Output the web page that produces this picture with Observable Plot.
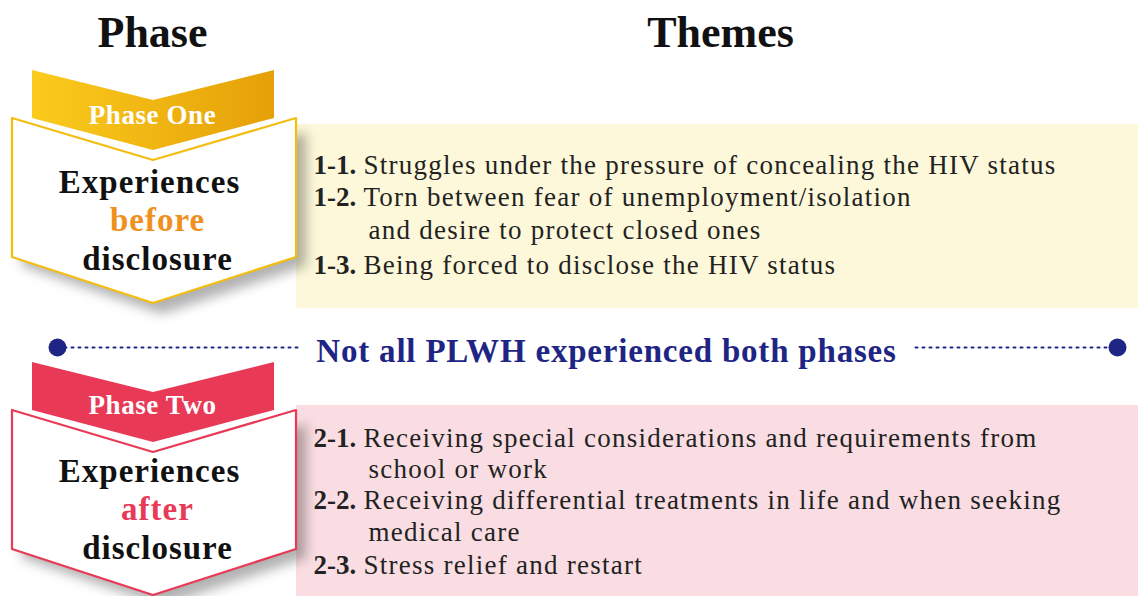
<!DOCTYPE html>
<html><head><meta charset="utf-8">
<script src="https://cdn.jsdelivr.net/npm/d3@7"></script>
<script src="https://cdn.jsdelivr.net/npm/@observablehq/plot@0.6"></script>
<style>
html,body{margin:0;padding:0;background:#fff;}
#chart svg{display:block;}
</style>
</head><body><div id="chart"></div>
<script>
// ---- data ----
const headings = ["Phase", "Themes"];
const phaseLabels = ["Phase One", "Phase Two"];
const phaseWordsTop = ["Experiences", "Experiences"];
const phaseWordsMid = ["before", "after"];
const phaseWordsBottom = ["disclosure", "disclosure"];
const themeNums1 = ["1-1.", "1-2.", "", "1-3."];
const themeTexts1 = [
  "Struggles under the pressure of concealing the HIV status",
  "Torn between fear of unemployment/isolation",
  "and desire to protect closed ones",
  "Being forced to disclose the HIV status"
];
const themeNums2 = ["2-1.", "", "2-2.", "", "2-3."];
const themeTexts2 = [
  "Receiving special considerations and requirements from",
  "school or work",
  "Receiving differential treatments in life and when seeking",
  "medical care",
  "Stress relief and restart"
];
const bridgeText = "Not all PLWH experienced both phases";

// ---- layout (pixel coordinate space) ----
const W = 1138, H = 596;
const serif = "'Liberation Serif', 'DejaVu Serif', serif";
const gold = "#f3bd12", goldText = "#f0901e", red = "#e83a57", navy = "#1f2585";
const offsets = [0, 292];
const phaseColors = [gold, red];
const midColors = [goldText, red];
const panelColors = ["#fdf8da", "#f9dde2"];
const panelY = [[124, 308], [405, 596]];
const shadowFill = "#010101";

function chevron(x, top, bottom, dy) {
  return x.map((xx, i) => ({x: xx, y1: top[i] + dy, y2: bottom[i] + dy}));
}
const marks = [];
panelY.forEach((p, i) => {
  marks.push(Plot.rect([{x1: 296, x2: W, y1: p[0], y2: p[1]}], {x1: "x1", x2: "x2", y1: "y1", y2: "y2", fill: panelColors[i]}));
});
offsets.forEach((dy, i) => {
  const sh = i ? -3 : 0;
  marks.push(Plot.areaY(chevron([22, 162, 306], [132, 174, 132], [266, 314, 266], dy), {x: "x", y1: "y1", y2: "y2", fill: shadowFill, fillOpacity: 0.3}));
  marks.push(Plot.areaY(chevron([12, 153, 296], [118, 160, 118], [257, 303, 257], dy), {x: "x", y1: "y1", y2: "y2", fill: "white", stroke: phaseColors[i], strokeWidth: 2.2}));
  marks.push(Plot.areaY(chevron([32, 153, 274], [70, 100, 70], [118, 150, 118], dy), {x: "x", y1: "y1", y2: "y2", fill: i === 0 ? "url(#goldGrad)" : red}));
  marks.push(Plot.text([phaseLabels[i]], {x: 152, y: 115 + dy + (i ? -2 : 0), text: d => d, fill: "white", fontFamily: serif, fontWeight: "bold", fontSize: 27}));
  marks.push(Plot.text([phaseWordsTop[i]], {x: 149, y: 182 + dy + sh, text: d => d, fill: "#111", fontFamily: serif, fontWeight: "bold", fontSize: 33}));
  marks.push(Plot.text([phaseWordsMid[i]], {x: 157, y: 220 + dy + sh, text: d => d, fill: midColors[i], fontFamily: serif, fontWeight: "bold", fontSize: 33}));
  marks.push(Plot.text([phaseWordsBottom[i]], {x: 157, y: 259 + dy + sh, text: d => d, fill: "#111", fontFamily: serif, fontWeight: "bold", fontSize: 33}));
});
marks.push(Plot.text(headings, {x: (d, i) => [152, 720][i], y: 32, text: d => d, fill: "#111", fontFamily: serif, fontWeight: "bold", fontSize: 44}));
const ys1 = [165, 197, 230, 265];
const ys2 = [438, 469, 500, 532, 565];
function themeMarks(nums, texts, ys) {
  const rows = nums.map((n, i) => ({n, t: texts[i], y: ys[i]}));
  marks.push(Plot.text(rows.filter(r => r.n), {x: 313, y: "y", text: "n", textAnchor: "start", fill: "#222", fontFamily: serif, fontWeight: "bold", fontSize: 27}));
  marks.push(Plot.text(rows, {x: r => r.n ? 363 : 368, y: "y", text: "t", textAnchor: "start", fill: "#222", fontFamily: serif, fontSize: 27}));
}
themeMarks(themeNums1, themeTexts1, ys1);
themeMarks(themeNums2, themeTexts2, ys2);
marks.push(Plot.line([{x: 57, y: 347}, {x: 300, y: 347}], {x: "x", y: "y", stroke: navy, strokeWidth: 2, strokeDasharray: "2,5"}));
marks.push(Plot.line([{x: 915, y: 347}, {x: 1117, y: 347}], {x: "x", y: "y", stroke: navy, strokeWidth: 2, strokeDasharray: "2,5"}));
marks.push(Plot.dot([{x: 57, y: 347}, {x: 1117, y: 347}], {x: "x", y: "y", r: 9, fill: navy}));
marks.push(Plot.text([bridgeText], {x: 606, y: 351, text: d => d, fill: navy, fontFamily: serif, fontWeight: "bold", fontSize: 33}));

const svg = Plot.plot({
  width: W, height: H, margin: 0,
  x: {domain: [0, W], range: [0, W], axis: null},
  y: {domain: [0, H], range: [0, H], axis: null},
  style: {background: "white"},
  marks
});
const s = d3.select(svg);
const defs = s.insert("defs", ":first-child");
const g = defs.append("linearGradient").attr("id", "goldGrad").attr("x1", "0").attr("x2", "1").attr("y1", "0").attr("y2", "0");
g.append("stop").attr("offset", "0").attr("stop-color", "#fbcb1d");
g.append("stop").attr("offset", "1").attr("stop-color", "#e5a007");
defs.append("filter").attr("id", "blur").attr("x", "-30%").attr("y", "-30%").attr("width", "160%").attr("height", "160%")
  .append("feGaussianBlur").attr("stdDeviation", 6);
s.selectAll("path").filter(function() {
  const p = this.closest("g");
  return (this.getAttribute("fill") === shadowFill) || (p && p.getAttribute("fill") === shadowFill);
}).attr("filter", "url(#blur)");
const spacing = new Map();
[...themeTexts1, ...themeTexts2].forEach(t => spacing.set(t, 1.25));
phaseLabels.forEach(t => spacing.set(t, 0.6));
[...phaseWordsTop, ...phaseWordsMid, ...phaseWordsBottom].forEach(t => spacing.set(t, 1));
spacing.set(bridgeText, 0.8);
s.selectAll("text").each(function() {
  const v = spacing.get(this.textContent);
  if (v != null) this.setAttribute("letter-spacing", v);
});
document.getElementById("chart").appendChild(svg);
</script>
</body></html>
